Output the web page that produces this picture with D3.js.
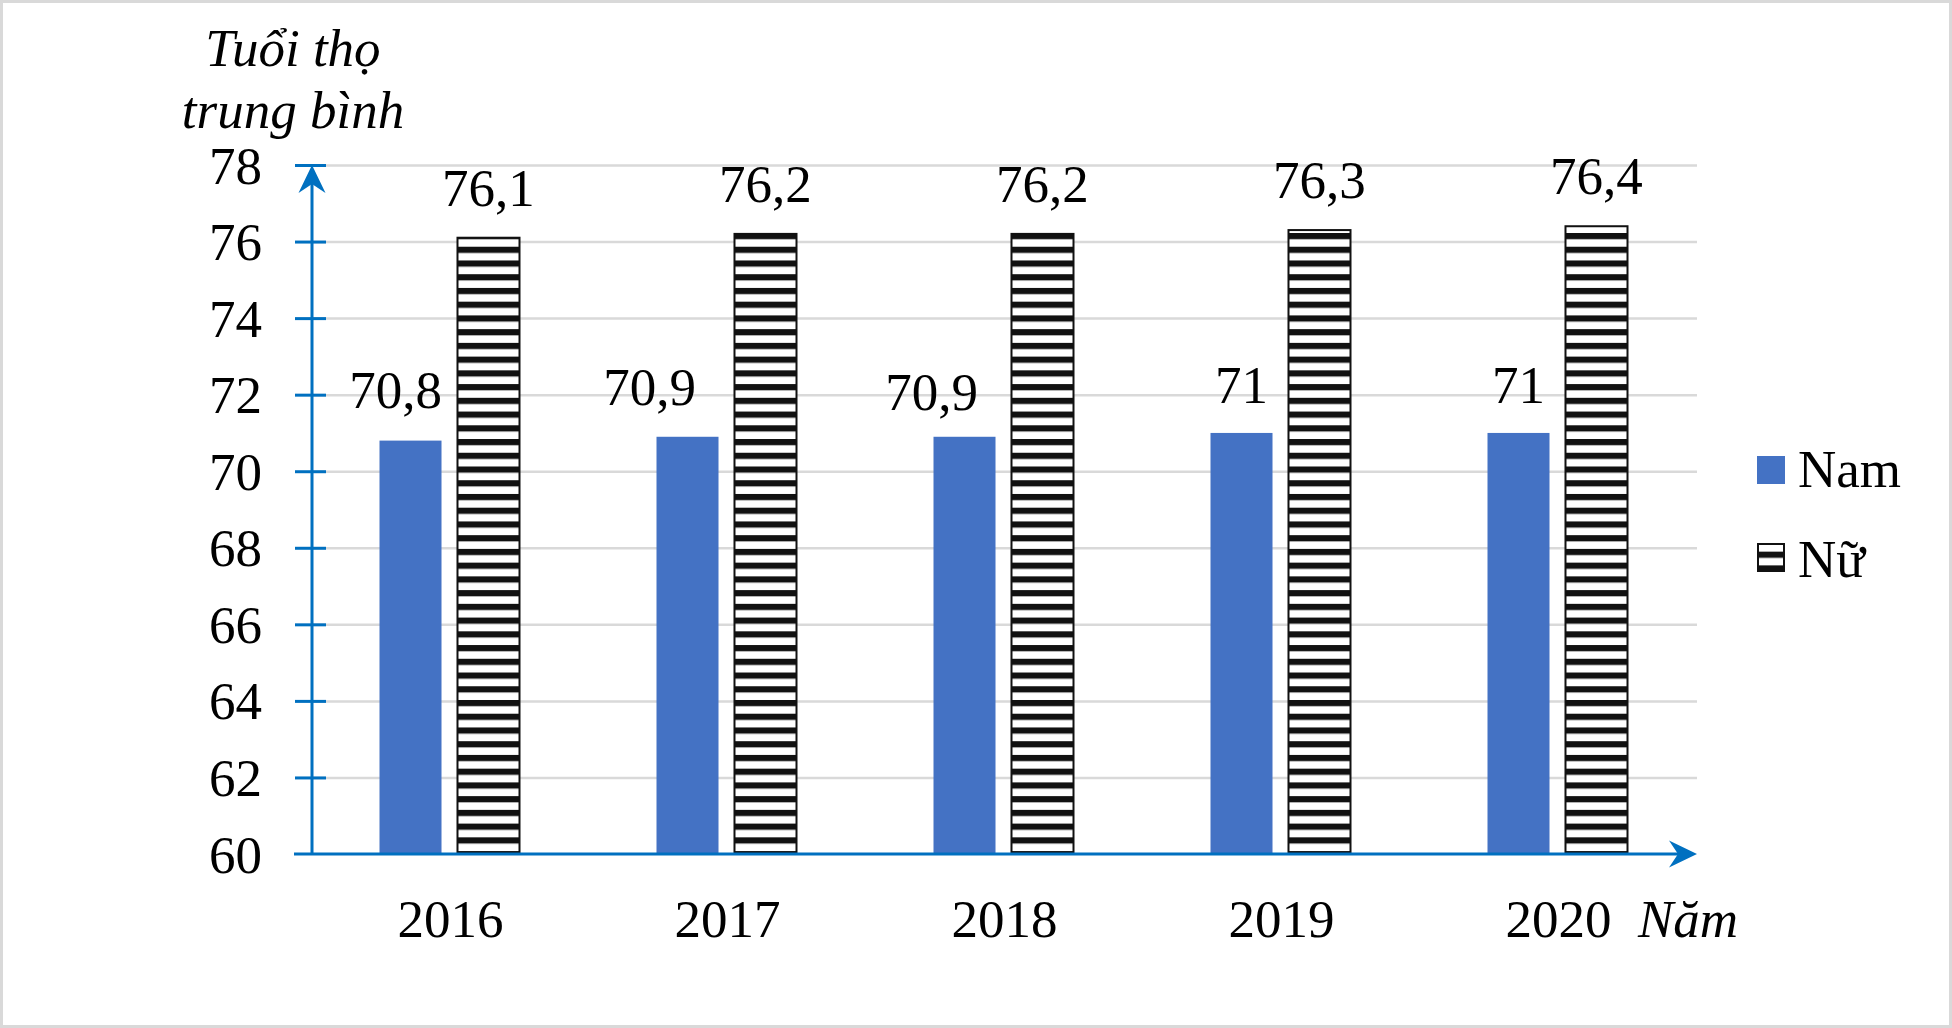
<!DOCTYPE html>
<html>
<head>
<meta charset="utf-8">
<script src="https://cdn.jsdelivr.net/npm/d3@7"></script>
<style>
  body { margin: 0; background: #fff; }
  svg text { font-family: "Liberation Serif", "Times New Roman", serif; fill: #000; }
</style>
</head>
<body>
<div id="chart"></div>
<script>
// data
var years = ["2016", "2017", "2018", "2019", "2020"];
var series = ["Nam", "Nữ"];
var nam = [70.8, 70.9, 70.9, 71, 71];
var nu = [76.1, 76.2, 76.2, 76.3, 76.4];
var yTicks = [60, 62, 64, 66, 68, 70, 72, 74, 76, 78];

var w = 1952;
var h = 1028;
var plotLeft = 312, plotRight = 1697, plotTop = 165, plotBottom = 854;
var blue = "#4472C4";
var axisBlue = "#0070C0";
var fs = 53;

var svg = d3.select("#chart")
  .append("svg")
  .attr("width", w)
  .attr("height", h);

// outer border
svg.append("rect")
  .attr("x", 1.5).attr("y", 1.5)
  .attr("width", w - 3).attr("height", h - 3)
  .attr("fill", "#fff")
  .attr("stroke", "#d9d9d9")
  .attr("stroke-width", 3);

// stripe pattern for the Nữ bars
var defs = svg.append("defs");
var pat = defs.append("pattern")
  .attr("id", "stripes")
  .attr("patternUnits", "userSpaceOnUse")
  .attr("x", 0).attr("y", -0.5)
  .attr("width", 20).attr("height", 13.735);
pat.append("rect").attr("width", 20).attr("height", 13.735).attr("fill", "#fff");
pat.append("rect").attr("width", 20).attr("height", 6.2).attr("fill", "#111");

var x0 = d3.scaleBand()
  .domain(years)
  .range([plotLeft, plotRight]);

var x1 = d3.scaleBand()
  .domain(series)
  .range([0, 140])
  .paddingInner(0.205);

var y = d3.scaleLinear()
  .domain([60, 78])
  .range([plotBottom, plotTop]);

// gridlines
svg.append("g")
  .attr("transform", "translate(" + plotLeft + ",0)")
  .call(d3.axisLeft(y)
    .tickValues(yTicks.filter(function(d) { return d > 60; }))
    .tickSize(-(plotRight - plotLeft))
    .tickFormat(""))
  .call(function(g) {
    g.select(".domain").remove();
    g.selectAll("line").attr("stroke", "#d9d9d9").attr("stroke-width", 2.5);
  });

function groupX(yr) { return x0(yr) + x0.bandwidth() / 2 - 71; }

// Nam bars
svg.append("g").selectAll("rect")
  .data(nam)
  .join("rect")
  .attr("x", function(d, i) { return groupX(years[i]) + x1("Nam"); })
  .attr("y", function(d) { return y(d); })
  .attr("width", x1.bandwidth())
  .attr("height", function(d) { return y(60) - y(d); })
  .attr("fill", blue);

// Nữ bars
svg.append("g").selectAll("rect")
  .data(nu)
  .join("rect")
  .attr("x", function(d, i) { return groupX(years[i]) + x1("Nữ"); })
  .attr("y", function(d) { return y(d); })
  .attr("width", x1.bandwidth())
  .attr("height", function(d) { return y(60) - y(d); })
  .attr("fill", "url(#stripes)")
  .attr("stroke", "#111")
  .attr("stroke-width", 2);

// y axis labels and crossing ticks
svg.append("g")
  .attr("transform", "translate(" + plotLeft + ",0)")
  .call(d3.axisLeft(y)
    .tickValues(yTicks)
    .tickSize(17)
    .tickPadding(33))
  .call(function(g) {
    g.select(".domain").remove();
    g.selectAll(".tick line")
      .attr("x1", 14)
      .attr("x2", -17)
      .attr("stroke", axisBlue)
      .attr("stroke-width", 3);
    g.selectAll(".tick line").filter(function(d) { return d === 60; }).remove();
    g.selectAll("text")
      .attr("font-size", fs)
      .attr("font-family", "Liberation Serif")
      .attr("dy", "0.34em")
      .attr("fill", "#000");
  });

// x axis labels
svg.append("g")
  .attr("transform", "translate(0," + plotBottom + ")")
  .call(d3.axisBottom(x0).tickSize(0).tickPadding(45))
  .call(function(g) {
    g.select(".domain").remove();
    g.selectAll("text")
      .attr("font-size", fs)
      .attr("font-family", "Liberation Serif")
      .attr("fill", "#000");
  });

// axis lines with stealth arrow heads
svg.append("line")
  .attr("x1", plotLeft).attr("x2", plotLeft)
  .attr("y1", plotBottom).attr("y2", plotTop + 10)
  .attr("stroke", axisBlue).attr("stroke-width", 3);
svg.append("line")
  .attr("x1", 294).attr("x2", plotRight - 10)
  .attr("y1", plotBottom).attr("y2", plotBottom)
  .attr("stroke", axisBlue).attr("stroke-width", 3);

svg.append("path")
  .attr("d", "M" + plotLeft + "," + plotTop + " L" + (plotLeft + 13.5) + "," + (plotTop + 28) +
    " L" + plotLeft + "," + (plotTop + 19) + " L" + (plotLeft - 13.5) + "," + (plotTop + 28) + "Z")
  .attr("fill", axisBlue);
svg.append("path")
  .attr("d", "M" + plotRight + "," + plotBottom + " L" + (plotRight - 28) + "," + (plotBottom - 13.5) +
    " L" + (plotRight - 19) + "," + plotBottom + " L" + (plotRight - 28) + "," + (plotBottom + 13.5) + "Z")
  .attr("fill", axisBlue);

// value labels
function fmt(v) { return String(v).replace(".", ","); }
var namNudge = [[-15, -33], [-38, -32], [-33, -27], [0, -30], [0, -30]];

svg.append("g").selectAll("text")
  .data(nam)
  .join("text")
  .attr("x", function(d, i) { return groupX(years[i]) + x1("Nam") + x1.bandwidth() / 2 + namNudge[i][0]; })
  .attr("y", function(d, i) { return y(d) + namNudge[i][1]; })
  .attr("text-anchor", "middle")
  .attr("font-size", fs)
  .text(fmt);

svg.append("g").selectAll("text")
  .data(nu)
  .join("text")
  .attr("x", function(d, i) { return groupX(years[i]) + x1("Nữ") + x1.bandwidth() / 2; })
  .attr("y", function(d) { return y(d) - 32; })
  .attr("text-anchor", "middle")
  .attr("font-size", fs)
  .text(fmt);

// axis titles
var title = svg.append("text")
  .attr("text-anchor", "middle")
  .attr("font-size", fs)
  .attr("font-style", "italic");
title.append("tspan").attr("x", 293).attr("y", 66).text("Tuổi thọ");
title.append("tspan").attr("x", 293).attr("y", 128).text("trung bình");

svg.append("text")
  .attr("x", 1638).attr("y", 937)
  .attr("font-size", fs)
  .attr("font-style", "italic")
  .text("Năm");

// legend
var legend = svg.append("g").attr("transform", "translate(1757,456)");
legend.append("rect")
  .attr("width", 28).attr("height", 28)
  .attr("fill", blue);
legend.append("text")
  .attr("x", 41).attr("y", 31)
  .attr("font-size", fs)
  .text(series[0]);
legend.append("rect")
  .attr("x", 1).attr("y", 88)
  .attr("width", 26).attr("height", 27)
  .attr("fill", "url(#stripes)")
  .attr("stroke", "#111")
  .attr("stroke-width", 2);
legend.append("text")
  .attr("x", 41).attr("y", 121)
  .attr("font-size", fs)
  .text(series[1]);
</script>
</body>
</html>
